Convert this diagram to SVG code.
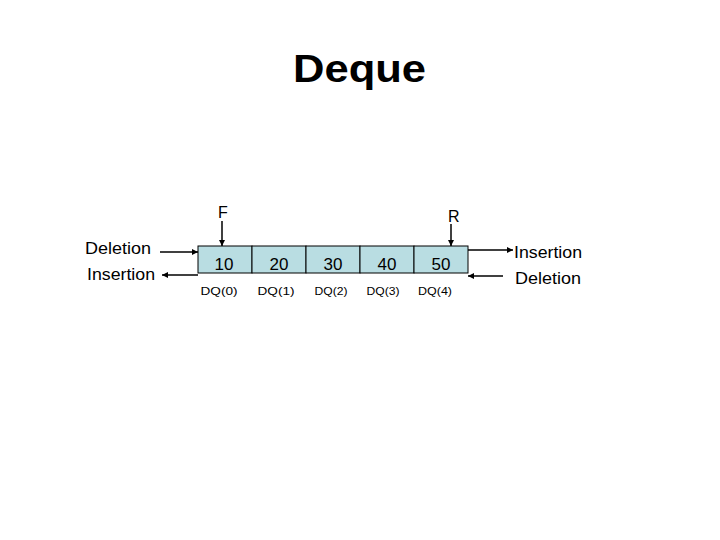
<svg xmlns="http://www.w3.org/2000/svg" width="720" height="540" viewBox="0 0 720 540">
<defs>
<marker id="ah" viewBox="0 0 10 10" refX="10" refY="5" markerWidth="7" markerHeight="6" markerUnits="userSpaceOnUse" orient="auto">
<path d="M0,0 L10,5 L0,10 z" fill="#000"/>
</marker>
<style>
text{font-family:"Liberation Sans",Arial,sans-serif;fill:#000}
.title{font-size:38px;font-weight:bold}
.lbl{font-size:16px}
.num{font-size:17px;text-anchor:middle}
.idx{font-size:11.5px;text-anchor:middle}
.cell{fill:#B9DDE2;stroke:#000;stroke-width:1}
.arr{stroke:#000;stroke-width:1.5;fill:none;marker-end:url(#ah)}
</style>
</defs>
<rect width="720" height="540" fill="#fff"/>
<text class="title" x="293" y="82" textLength="133" lengthAdjust="spacingAndGlyphs">Deque</text>
<g id="cell0"><rect class="cell" x="198" y="246" width="54" height="27"/><text class="num" x="224" y="270">10</text><text class="idx" x="219" y="295" textLength="37" lengthAdjust="spacingAndGlyphs">DQ(0)</text></g>
<g id="cell1"><rect class="cell" x="252" y="246" width="54" height="27"/><text class="num" x="279" y="270">20</text><text class="idx" x="276" y="295" textLength="37" lengthAdjust="spacingAndGlyphs">DQ(1)</text></g>
<g id="cell2"><rect class="cell" x="306" y="246" width="54" height="27"/><text class="num" x="333" y="270">30</text><text class="idx" x="331" y="295" textLength="33" lengthAdjust="spacingAndGlyphs">DQ(2)</text></g>
<g id="cell3"><rect class="cell" x="360" y="246" width="54" height="27"/><text class="num" x="387" y="270">40</text><text class="idx" x="383" y="295" textLength="33" lengthAdjust="spacingAndGlyphs">DQ(3)</text></g>
<g id="cell4"><rect class="cell" x="414" y="246" width="54" height="27"/><text class="num" x="441" y="270">50</text><text class="idx" x="435" y="295" textLength="34" lengthAdjust="spacingAndGlyphs">DQ(4)</text></g>
<g id="front"><text class="lbl" x="218" y="218">F</text></g>
<g id="rear"><text class="lbl" x="448" y="222">R</text></g>
<g id="leftlabels"><text class="lbl" x="85" y="254" textLength="66" lengthAdjust="spacingAndGlyphs">Deletion</text><text class="lbl" x="87" y="280" textLength="68" lengthAdjust="spacingAndGlyphs">Insertion</text></g>
<g id="rightlabels"><text class="lbl" x="514" y="258" textLength="68" lengthAdjust="spacingAndGlyphs">Insertion</text><text class="lbl" x="515" y="284" textLength="66" lengthAdjust="spacingAndGlyphs">Deletion</text></g>
<g id="connectors">
<line class="arr" x1="222" y1="221" x2="222" y2="246"/>
<line class="arr" x1="451" y1="224" x2="451" y2="246"/>
<line class="arr" x1="160" y1="252" x2="198" y2="252"/>
<line class="arr" x1="198" y1="275" x2="162" y2="275"/>
<line class="arr" x1="468" y1="250" x2="513" y2="250"/>
<line class="arr" x1="503" y1="276" x2="468" y2="276"/>
</g>
</svg>
